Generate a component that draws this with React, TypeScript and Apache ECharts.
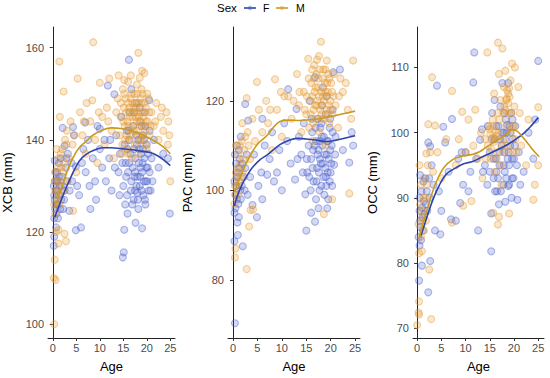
import React, { useEffect, useRef } from "react";
import * as echarts from "echarts";

const SEX = ["F", "M"];
const PANELS = ["XCB (mm)", "PAC (mm)", "OCC (mm)"];
const AGE_TICKS = [0, 5, 10, 15, 20, 25];
const XCB_TICKS = [100, 120, 140, 160];
const PAC_TICKS = [80, 100, 120];
const OCC_TICKS = [70, 80, 90, 100, 110];

const XCB_F = [
  [0.2,117],[0.3,119],[0.7,121],[0.3,123],[0.5,125],[0.4,127],[0.6,129],[0.8,124],[1.0,126],[1.2,128],[1.0,131],[1.5,130],[0.9,133],[1.3,135],[1.8,127],[2.0,132],[2.2,125],[2.5,129],[2.8,134],[3.0,131],[3.5,124.6],[3.2,137],[0.4,135.5],[0.8,131.3],[4.1,131],[4.9,134.2],[2.5,138.7],[2.1,142.6],[4.3,142.8],[6.9,143.8],[10,142.4],
  [4.0,135],[4.5,141],[4.9,120.4],[5.2,130],[6,121],[6.5,138],[7,133],[7.5,140],[8,125],[8.5,136],[9,131],[9.5,143],[10,138],[10.5,134],[11,140],[11.7,151.8],[12,136],[12.5,129],[13.1,149.9],[13.5,141],[14,133],[14.3,137],[14.6,145],[15,130],[15.2,120.5],[15.1,115.6],[14.9,114.5],[15.3,139],[15.5,135],[15.7,142],[15.8,128],[16,133],[16.2,157.4],[16.2,140],[16.4,146],[16.5,137],[16.7,131],[16.7,151],[17,134],[17.1,143],[17.3,138],[17.5,129],[17.6,136],[17.8,148],[18,132],[18.2,140],[18.3,135],[18.5,130],[18.5,147],[18.6,144],[18.8,137],[19,133],[19.1,141],[19.3,128],[19.5,136],[19.6,146],[19.8,131],[20,139],[20.2,134],[20.4,129],[20.5,148.6],[20.6,142],[21,136],[21.5,140],[22.5,134],[23.5,137],[24.9,124],[24.5,136],
  [16.9,126],[17.4,132],[18.1,127],[18.7,134],[19.2,138],[19.7,126],[20.1,131],[17.9,139],[16.3,135],[15.6,132],[18.9,143],[17.7,141],[19.4,131],
  [0.3,128],[0.5,131],[0.7,126],[0.9,129],[1.1,123],[1.4,132],[1.6,125],[1.9,130],[0.2,130],[0.6,133],[1.7,136],[2.4,127],[14.2,128],[14.8,135],[15.4,126],[15.9,138],[16.6,129],[17.2,127],[17.5,133],[17.8,130],[18.2,125],[18.4,138],[18.9,129],[19.1,135],[19.4,140],[19.6,127],[19.9,134],[20.3,137],[20.8,129],[16.1,142],[17.3,146],[18.6,132],[19.7,143],[20.6,133],[21.2,131],[13.2,134],[12.2,140],[11.3,131],[9.2,127],[7.8,130],[6.2,135],[5.6,128],[3.6,129],[2.9,136],[15.9,124],[17.6,122],[19.0,120.8],[18.0,128.5]
];
const XCB_M = [
  [0.3,100],[0.2,110],[0.6,109.6],[0.4,114],[1.2,117.5],[2.8,118],[2.5,119.6],[0.7,120],[1.2,120.5],[0.5,124],[0.8,127],[1.0,129],[1.4,126],[1.6,131],[0.5,133],[1.2,136],[1.8,134],[2.0,138],[2.3,129],[2.6,140],[1.5,145],[2.3,150.5],[1.4,157],[3.0,142],[3.4,136],[4.3,124.6],[3.8,144],[4.2,139],[5.3,153.3],[5.0,133],[5.8,146],[6.3,141],[7.0,137],[7.2,148],[8.0,144],[8.4,148.6],[8.6,161.2],[9,140],[9.5,135],[10,152.4],[10.5,145],[11,139],[11.5,147],[12,153.3],[12.5,142],[13,136],[13.5,146],
  [14,154],[14.2,141],[14.5,148],[14.7,137],[15,144],[15.2,150],[15.4,140],[15.6,146],[15.8,138],[16,152.6],[16.1,143],[16.3,147],[16.5,141],[16.6,149],[16.8,136],[17,145],[17.2,142],[17.4,150],[17.5,139],[17.7,147],[17.9,144],[18,141],[18.2,158.9],[18.3,148],[18.5,153.5],[18.6,143],[18.8,146],[19,140],[19.1,150],[19.3,145],[19.5,154.5],[19.6,142],[19.8,147],[20,138],[20.2,144],[20.4,149],[20.6,141],[21,146],[21.5,143],[22,148],[22.5,140],[23,145],[23.5,142],[24.2,146],[24.6,144],[25,131],[24.5,139],
  [15.1,147],[15.9,144],[16.4,145],[16.9,148],[17.1,143],[17.6,145],[18.1,146],[18.4,144],[18.9,148],[19.4,143],[15.5,149],[16.2,146],[17.3,147],[18.7,149],[19.2,146],
  [0.3,126],[0.6,129],[0.9,131],[1.1,134],[1.3,128],[1.7,137],[2.1,133],[2.4,135],[0.4,131],[0.8,138],[2.9,139],[3.2,131],[4.6,141],[6.6,144],[9.8,146],[11.8,144],[13.8,149],[14.4,145],[14.9,151],[15.3,143],[15.7,141],[16.0,148],[16.4,140],[16.8,150],[17.2,146],[17.5,148],[17.8,142],[18.0,150],[18.3,145],[18.6,140],[18.9,151],[19.2,141],[19.5,148],[19.8,144],[20.1,150],[20.5,146],[20.8,143],[15.2,153],[16.6,154],[17.9,152],[19.0,155],[14.8,139],[16.0,137],[18.2,137],[19.7,139],[21.8,144],[23.2,147],[24.8,141]
];
const PAC_F = [
  [0.4,70.3],[2.0,87.5],[0.3,88.6],[1.0,90],[0.9,92.8],[1.2,94],[0.5,96],[0.8,98],[1.5,100],[0.3,102],[1.0,104],[1.8,101],[2.2,103],[0.6,106],[1.4,107],[2.5,105],[3.0,99],[0.8,110],[1.6,112],[2.5,119.3],[3.1,115.6],[3.5,103],[4.0,96.7],[4.3,108],[4.9,94],[5.2,101],[6,98],[6,116],[6.5,110],[7,103.5],[7.5,107],[8,113],[9,104],[9.5,109],[10,100],[10.5,115],[11.3,122.6],[11.8,106],[12.7,102.4],[13,118.2],[13.5,112],
  [14,108],[14.5,115],[14.8,99.1],[15,91],[15.2,104],[15.5,110],[15.7,120],[16,107],[16.2,113],[16.5,102],[16.8,93],[16.8,125.3],[17,111],[17.2,105],[17.4,116],[17.5,109],[17.7,100],[17.9,114],[18,106],[18.2,119],[18.3,110],[18.5,103],[18.6,112],[18.8,108],[19,117],[19.1,101],[19.3,111],[19.5,98],[19.6,107],[19.8,114],[20,104],[20.2,110],[20.5,126.4],[20.7,105.7],[21,112],[21.9,127],[22.5,109],[23.8,106.2],[24.6,110],[24.3,113],[20.4,118],[19.2,121],[18.4,123],
  [16.4,109],[17.8,111],[18.9,105],[19.9,109],[17.1,102],[18.1,115],[19.4,104],[16.1,116],[20.3,101],
  [0.3,95],[0.5,99],[0.7,101],[0.9,103],[1.1,97],[1.3,105],[1.6,98],[1.9,106],[2.4,100],[0.4,108],[1.2,109],[2.8,108],[15.1,107],[15.6,103],[15.9,100],[16.3,105],[16.7,110],[17.0,98],[17.3,108],[17.6,104],[17.8,107],[18.1,101],[18.4,106],[18.7,99],[19.0,103],[19.2,108],[19.5,111],[19.8,102],[20.1,106],[20.4,113],[20.9,108],[16.0,95],[17.5,96],[19.3,96],[18.2,112],[16.9,114],[19.9,116],[14.3,104],[13.2,107],[11.1,111],[8.4,102],[5.8,104]
];
const PAC_M = [
  [0.4,85],[0.5,87],[2.8,82.4],[3.3,91.9],[3.6,95.6],[4.1,95.7],[0.3,97],[0.5,99],[0.8,100.5],[1.2,102],[0.6,104],[1.5,106],[1.0,108],[2.0,104],[2.3,109],[1.8,111],[2.8,120.6],[3.0,113],[3.5,107],[4.0,116],[4.5,111],[4.9,124.2],[5.3,118],[6,113],[6.8,120],[7.2,115],[8,109],[8.6,124.8],[9,118],[10,112],[10.5,121],[11.3,121],[12,116],[13.1,126],[13.5,119],
  [14,113],[14.5,122],[15,117],[15.4,129.4],[15.6,114],[15.8,120],[16,124],[16.3,111],[16.5,118],[16.7,122],[17,116],[17.2,129.2],[17.3,120],[17.5,125],[17.7,113],[17.9,118],[18,133.2],[18.1,122],[18.3,116],[18.5,127],[18.6,120],[18.6,94.7],[18.8,124],[19,110],[19.2,118],[19.4,122],[19.5,126],[19.7,115],[19.9,120],[20.1,124],[20.3,98],[20.4,117],[20.6,121],[21,119],[21.5,114],[22.5,122],[23.5,118],[23.8,99.3],[24.6,129],[24.2,116],[22,125],
  [16.2,121],[16.9,123],[17.6,121],[18.2,119],[18.9,122],[19.3,124],[17.1,119],[16.6,125],[18.4,121],[19.6,119],
  [0.4,101],[0.7,103],[0.9,105],[1.1,99],[1.4,110],[1.7,103],[2.1,107],[2.5,112],[0.6,110],[1.9,115],[3.2,110],[15.1,121],[15.5,125],[15.9,117],[16.2,127],[16.4,115],[16.8,119],[17.1,126],[17.4,123],[17.8,127],[18.1,117],[18.4,125],[18.7,116],[18.9,127],[19.1,121],[19.4,117],[19.7,125],[20.0,118],[20.3,122],[20.7,126],[17.6,130],[16.6,128],[19.2,129],[14.7,118],[13.6,122],[12.4,120],[9.8,122],[7.6,118],[21.7,121],[23.1,124]
];
const OCC_F = [
  [0.4,77.3],[1.0,79.6],[2.7,80.3],[0.5,82.7],[0.8,83.5],[1.2,85],[0.6,86.5],[1.5,87.5],[2.3,75.5],[1.0,88.5],[0.5,90],[2.0,91],[1.3,92.5],[1.8,89],[2.5,93],[3.0,95],[2.3,98.5],[2.7,97.9],[3.7,85],[4.8,84.4],[4.1,107.2],[4.5,91],[5.0,88],[5.4,100.9],[5.8,98.5],[6.5,94],[7,86.7],[7.2,102.1],[8,86.5],[8.5,96],[8.9,89.2],[9.5,92],[10,97],[11,94],[11.6,107.7],[11.8,112.3],[12.6,85],[13,98.9],[13.4,100.5],
  [14,95],[14.5,92],[15,97],[15.3,81.8],[15.3,87.6],[15.5,103],[15.8,93],[16,99],[16.2,96],[16.5,91],[16.8,101],[17,95],[17.2,104],[17.4,98],[17.6,107.6],[17.8,92],[18,97],[18.2,89.4],[18.3,102],[18.5,100],[18.6,101.2],[18.8,91.8],[18.8,107.6],[19,95],[19.2,98],[19.4,103],[19.6,93],[19.8,99],[20,96],[20.3,101],[20.7,89.7],[21,97],[22,94],[23,100],[24.4,102],[25,111],[24,96],
  [16.4,94],[17.1,99],[18.1,94],[18.9,97],[19.5,90],[16.9,89],[17.9,100],[19.1,101],
  [0.3,84],[0.5,88],[0.7,85.5],[0.9,91],[1.1,87],[1.4,89.5],[1.7,93],[2.1,88],[0.6,93.5],[2.6,90],[3.4,92],[15.0,94],[15.4,99],[15.8,96],[16.1,91],[16.4,101],[16.7,93],[17.0,97],[17.3,91],[17.6,100],[17.9,95],[18.2,99],[18.4,93],[18.7,96],[19.0,92],[19.3,100],[19.6,96],[19.9,93],[20.2,98],[20.6,95],[21.3,92],[14.6,101],[16.0,105],[18.0,103],[19.7,102],[13.6,94],[12.2,96],[10.6,91],[9.2,97]
];
const OCC_M = [
  [0,70.5],[0.4,72.1],[0.3,72.4],[0.4,74.1],[2.9,71.4],[2.5,79],[0.4,81.5],[1.0,81.8],[0.8,84],[1.4,85],[1.8,86.5],[0.9,88],[1.3,90],[2.0,92],[1.9,96.8],[2.3,101.3],[3.1,108.5],[3.7,101.1],[3.3,94],[4.2,97],[5,93],[6,99],[7.2,86.2],[7.2,106.4],[8,95],[9.3,103.2],[9.5,88.8],[10,97],[11.2,89.5],[12,103.5],[12.5,96],[13.5,93],
  [14,99],[14.5,112.3],[14.6,98],[15,100.5],[15.2,96],[15.5,99.2],[15.7,87.7],[15.8,101],[16,94],[16.3,99.5],[16.5,97],[16.7,113.8],[16.7,85.9],[16.9,87.1],[17,102],[17.3,95],[17.6,112.9],[17.8,99],[18,104],[18.2,109.5],[18.4,105],[18.6,106.5],[18.8,104.5],[18.8,106],[19,87.6],[19.1,105.5],[19.3,100],[19.5,103],[19.6,110.6],[19.8,97],[20,101],[20.3,99],[20.9,107],[21.5,98],[22.5,95],[23,102],[24,89.7],[25,103.9],[25,95],[24.3,92],
  [15.1,99.8],[15.9,98.6],[16.1,100.2],[18.5,105.2],[19.0,106.8],[18.3,103.4],[17.4,92],[16.6,103],
  [0.3,86],[0.6,89],[0.8,92],[1.1,87],[1.5,93],[1.8,90],[2.2,95],[0.5,95],[2.7,97],[14.2,96],[14.8,101],[15.3,97.5],[15.6,102],[16.0,99],[16.4,96],[16.8,100],[17.2,105],[17.5,98],[17.8,103],[18.1,97],[18.4,101],[18.7,98],[19.0,103],[19.3,108],[19.7,101],[20.1,104],[20.5,97],[21.2,103],[15.9,106],[16.9,109],[17.9,107],[20.2,110],[13.2,100],[11.6,98],[10.6,102],[8.6,99]
];

const XCB_FIT_F = [[0.4,123.2],[1,124.8],[2,127.5],[3,130],[3.7,131.6],[4.7,133.7],[5.7,135.5],[7,136.8],[8.6,137.7],[10.7,138.3],[12.5,138.3],[14.5,138.1],[16.5,137.9],[18.5,137.6],[20.5,137.3],[22.4,136.5],[24,135.3],[25,134.4]];
const XCB_FIT_M = [[0.4,125.3],[1,127],[2,130],[3,133],[4,135.5],[5.5,138.2],[7.2,139.8],[8.5,141],[10.7,142.2],[12.5,142.6],[14.8,142.4],[17,141.9],[19.5,140.9],[21.5,139.8],[23.5,138.5],[25,137]];
const PAC_FIT_F = [[0.3,96.5],[0.8,98.5],[2,101.6],[3,103.5],[3.9,105],[5.5,106.8],[7,107.9],[9.6,110.2],[11.5,111.2],[13.1,111.6],[16.4,111.3],[19.2,110.9],[21.5,111.3],[24.6,112.1],[25,112.2]];
const PAC_FIT_M = [[0.3,99.6],[1,101.6],[2,104.3],[3.5,107.7],[5,110.3],[7,112.3],[8,113.7],[9.6,115.4],[11.5,115.7],[13.7,115.6],[15.8,115.8],[17.8,116],[20,116.5],[22.5,117.1],[25,117.7]];
const OCC_FIT_F = [[0.8,84.2],[2,87],[3.3,89.8],[4.5,91.8],[6,93.6],[8,94.6],[9.5,95.2],[11.6,95.6],[13.5,96.3],[16.7,97.4],[18.5,98.1],[20.2,98.9],[22,99.9],[23.5,101],[25,102.3]];
const OCC_FIT_M = [[0.4,83.8],[1,85.4],[2,88],[3,90.5],[4,92.5],[5.5,94.6],[7.4,95.9],[9.5,96.4],[11.6,96.7],[13,97.1],[14.5,97.9],[16.7,98.9],[18.5,99.8],[19.6,100.4],[20.7,100.2],[21.7,99.4],[23,98.2],[24.2,97.1],[25.2,96.3]];

const F_PT = "#4a5fcc";
const M_PT = "#e6992e";
const F_LINE = "#2e44a8";
const M_LINE = "#c99a1c";
const FONT = "Liberation Sans";

const GRIDS = [
  { left: 43, top: 27, width: 132, height: 315 },
  { left: 228, top: 27, width: 132, height: 315 },
  { left: 413, top: 27, width: 131, height: 315 },
];
const X_RANGES = [[-1.02, 26.0], [-1.02, 26.0], [-0.85, 26.2]];
const Y_RANGES = [[97, 164.5], [67, 136.5], [68.5, 116.2]];
const Y_TICKS = [XCB_TICKS, PAC_TICKS, OCC_TICKS];
const POINTS = [[XCB_F, XCB_M], [PAC_F, PAC_M], [OCC_F, OCC_M]];
const FITS = [[XCB_FIT_F, XCB_FIT_M], [PAC_FIT_F, PAC_FIT_M], [OCC_FIT_F, OCC_FIT_M]];

function hexA(hex: string, a: number) {
  const n = parseInt(hex.slice(1), 16);
  return `rgba(${(n >> 16) & 255},${(n >> 8) & 255},${n & 255},${a})`;
}

export default function App() {
  const ref = useRef<HTMLDivElement>(null);
  useEffect(() => {
    document.body.style.margin = "0";
    const chart = echarts.init(ref.current!, null, { renderer: "svg" });
    const xAxis: any[] = [];
    const yAxis: any[] = [];
    const series: any[] = [];
    const ptCols = [F_PT, M_PT];
    const lnCols = [F_LINE, M_LINE];
    PANELS.forEach((name, i) => {
      xAxis.push({
        type: "value", gridIndex: i, min: X_RANGES[i][0], max: X_RANGES[i][1],
        name: "Age", nameLocation: "middle", nameGap: 22,
        nameTextStyle: { fontFamily: FONT, fontSize: 13, color: "#000" },
        axisLine: { show: true, lineStyle: { color: "#222", width: 1 } },
        axisTick: { show: true, length: 3, lineStyle: { color: "#333" }, customValues: AGE_TICKS },
        axisLabel: { fontFamily: FONT, fontSize: 11, color: "#4d4d4d", margin: 4, customValues: AGE_TICKS },
        splitLine: { show: false },
      });
      yAxis.push({
        type: "value", gridIndex: i, min: Y_RANGES[i][0], max: Y_RANGES[i][1],
        name, nameLocation: "middle", nameGap: 34, nameRotate: 90,
        nameTextStyle: { fontFamily: FONT, fontSize: 13, color: "#000" },
        axisLine: { show: true, lineStyle: { color: "#222", width: 1 } },
        axisTick: { show: true, length: 3, lineStyle: { color: "#333" }, customValues: Y_TICKS[i] },
        axisLabel: { fontFamily: FONT, fontSize: 11, color: "#4d4d4d", margin: 4, customValues: Y_TICKS[i] },
        splitLine: { show: false },
      });
      SEX.forEach((s, k) => {
        series.push({
          type: "scatter", name: s, xAxisIndex: i, yAxisIndex: i,
          data: POINTS[i][k], symbolSize: 7,
          itemStyle: { color: hexA(ptCols[k], 0.3), borderColor: hexA(ptCols[k], 0.55), borderWidth: 1.1 },
          z: 2,
        });
      });
      SEX.forEach((s, k) => {
        series.push({
          type: "line", name: s + " fit", xAxisIndex: i, yAxisIndex: i,
          data: FITS[i][k], smooth: 0.4, showSymbol: false,
          lineStyle: { color: lnCols[k], width: 1.6 }, z: 5,
        });
      });
    });
    chart.setOption({
      animation: false,
      backgroundColor: "#fff",
      grid: GRIDS,
      xAxis, yAxis, series,
      graphic: [
        { type: "text", x: 217, y: 8, style: { text: "Sex", fontFamily: FONT, fontSize: 11.5, fill: "#000", verticalAlign: "middle" } },
        { type: "line", shape: { x1: 244, y1: 8, x2: 256, y2: 8 }, style: { stroke: F_LINE, lineWidth: 1.6 } },
        { type: "circle", shape: { cx: 250, cy: 8, r: 2.2 }, style: { fill: hexA(F_PT, 0.45) } },
        { type: "text", x: 263, y: 8, style: { text: "F", fontFamily: FONT, fontSize: 10.5, fill: "#000", verticalAlign: "middle" } },
        { type: "line", shape: { x1: 276, y1: 8, x2: 288, y2: 8 }, style: { stroke: M_LINE, lineWidth: 1.6 } },
        { type: "circle", shape: { cx: 282, cy: 8, r: 2.2 }, style: { fill: hexA(M_PT, 0.45) } },
        { type: "text", x: 296, y: 8, style: { text: "M", fontFamily: FONT, fontSize: 10.5, fill: "#000", verticalAlign: "middle" } },
      ],
    });
    return () => chart.dispose();
  }, []);
  return <div ref={ref} style={{ width: 550, height: 378 }} />;
}
